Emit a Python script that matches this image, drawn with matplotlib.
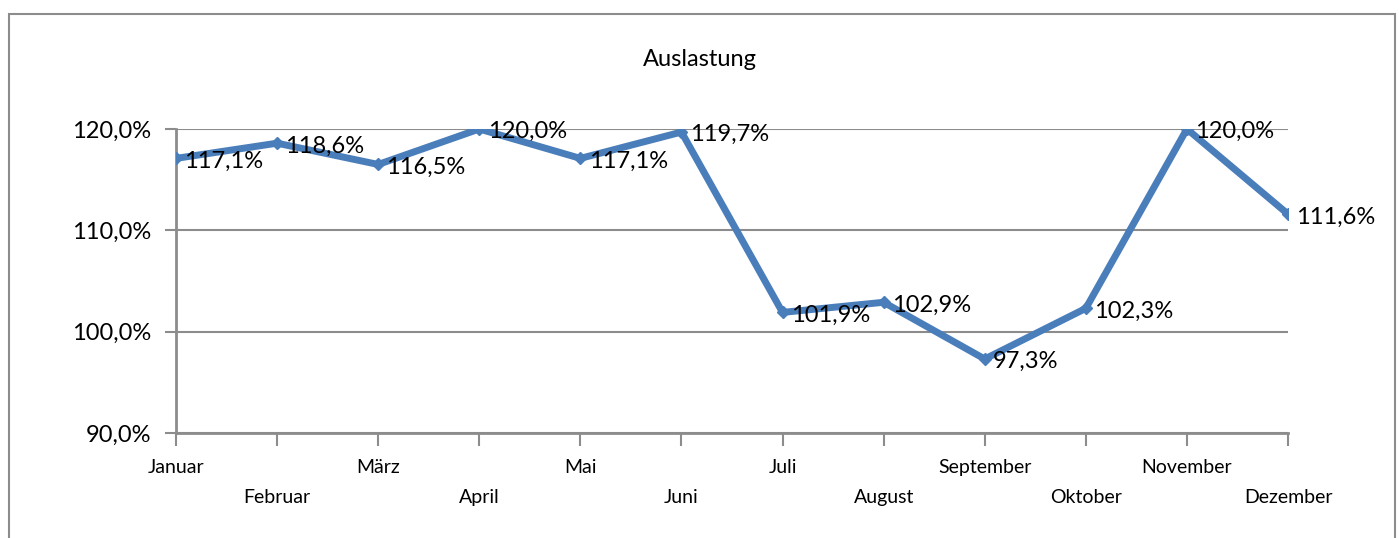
import matplotlib.pyplot as plt
from matplotlib.patches import Rectangle
from matplotlib.ticker import FuncFormatter

plt.rcParams['font.family'] = ['Lato', 'DejaVu Sans']

# data
monate = ['Januar', 'Februar', 'März', 'April', 'Mai', 'Juni',
          'Juli', 'August', 'September', 'Oktober', 'November', 'Dezember']
auslastung = [117.1, 118.6, 116.5, 120.0, 117.1, 119.7,
              101.9, 102.9, 97.3, 102.3, 120.0, 111.6]

fig = plt.figure(figsize=(13.99, 5.38), dpi=100)

# chart frame (cut off at the bottom like in the screenshot)
fig.patches.append(Rectangle((9 / 1399, -0.1), 1386 / 1399, 1.1 - 14 / 538,
                             transform=fig.transFigure, fill=False,
                             edgecolor='#8c8c8c', linewidth=1.5))

ax = fig.add_axes([176 / 1399, 1 - 433 / 538, 1112 / 1399, 304 / 538])

x = list(range(len(monate)))
ax.plot(x, auslastung, color='#4a7ebb', linewidth=5, marker='D',
        markersize=6, zorder=3)

for i, v in enumerate(auslastung):
    ax.annotate(f'{v:.1f}%'.replace('.', ','), (i, v), xytext=(6, -2),
                textcoords='offset points', va='center', ha='left',
                fontsize=17, zorder=4)

ax.set_xlim(0, 11)
ax.set_ylim(90, 120)
ax.set_yticks([90, 100, 110, 120])
ax.yaxis.set_major_formatter(FuncFormatter(lambda v, p: f'{v:.1f}%'.replace('.', ',')))
ax.tick_params(axis='y', labelsize=17, length=8, width=1.5, color='#8c8c8c', pad=10)
ax.grid(axis='y', color='#8c8c8c', linewidth=1.5)

ax.set_xticks(x)
ax.set_xticklabels([])
ax.tick_params(axis='x', length=9, width=1.5, color='#8c8c8c')
for i, m in enumerate(monate):
    off = 0 if i % 2 == 0 else 30
    ax.annotate(m, (i, 90), xytext=(0, -(34 + off) * 0.72), textcoords='offset points',
                ha='center', va='center', fontsize=14, annotation_clip=False)

for s in ['top', 'right']:
    ax.spines[s].set_visible(False)
for s in ['left', 'bottom']:
    ax.spines[s].set_color('#8c8c8c')
    ax.spines[s].set_linewidth(2)

fig.text(700 / 1399, 1 - 60 / 538, 'Auslastung', ha='center', va='center', fontsize=17)

fig.savefig('out.png', dpi=100)
